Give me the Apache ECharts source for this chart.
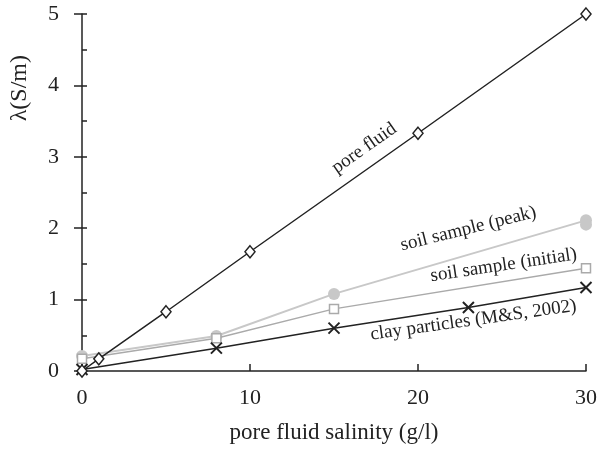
<!DOCTYPE html>
<html><head><meta charset="utf-8">
<script src="https://cdn.jsdelivr.net/npm/echarts@6/dist/echarts.min.js"></script>
<style>html,body{margin:0;padding:0;background:#fff}#c{width:600px;height:452px}</style>
</head><body><div id="c"></div>
<script>
// Data (x = pore fluid salinity g/l, y = conductivity S/m)
const poreFluidX = [0, 1, 5, 10, 20, 30];
const poreFluidY = [0, 0.17, 0.83, 1.67, 3.33, 5.0];
const clayX = [0, 8, 15, 23, 30];
const clayY = [0.02, 0.32, 0.6, 0.89, 1.17];
const initialX = [0, 8, 15, 30];
const initialY = [0.17, 0.46, 0.87, 1.44];
const peakX = [0, 8, 15, 30, 30];
const peakY = [0.21, 0.49, 1.08, 2.11, 2.05];
const xTicks = [0, 10, 20, 30];
const yTicks = [0, 1, 2, 3, 4, 5];
// annotations: text, anchor in data coords, rotation (deg)
const annText = ['pore fluid', 'soil sample (peak)', 'soil sample (initial)', 'clay particles (M&S, 2002)'];
const annX = [16.8, 23.0, 25.1, 23.3];
const annY = [3.12, 1.99, 1.48, 0.71];
const annRot = [35, 14, 8.5, 8];

const zip = (a, b) => a.map((v, i) => [v, b[i]]);
const FONT = '"Liberation Serif", "DejaVu Serif", serif';
const chart = echarts.init(document.getElementById('c'), null, {renderer: 'canvas'});
const crossPath = 'path://M0,0L10,10M10,0L0,10';
const option = {
  animation: false,
  grid: {left: 82, right: 14, top: 14, bottom: 81},
  xAxis: {
    type: 'value', min: xTicks[0], max: xTicks[xTicks.length - 1], interval: 10,
    name: 'pore fluid salinity (g/l)', nameLocation: 'middle', nameGap: 50,
    nameTextStyle: {fontFamily: FONT, fontSize: 23, color: '#222'},
    axisLine: {lineStyle: {color: '#222', width: 1.5}},
    axisTick: {inside: true, length: 7, lineStyle: {color: '#222', width: 1.5}},
    axisLabel: {fontFamily: FONT, fontSize: 22, color: '#222', margin: 16},
    splitLine: {show: false}
  },
  yAxis: [{
    type: 'value', min: yTicks[0], max: yTicks[yTicks.length - 1], interval: 1,
    name: 'λ(S/m)', nameLocation: 'end', nameRotate: 90, nameGap: -41,
    nameTextStyle: {fontFamily: FONT, fontSize: 24, color: '#222', align: 'right', verticalAlign: 'bottom', padding: [0, 0, 50, 0]},
    axisLine: {lineStyle: {color: '#222', width: 1.5}},
    axisTick: {inside: false, length: 8, lineStyle: {color: '#222', width: 1.5}},
    axisLabel: {fontFamily: FONT, fontSize: 22, color: '#222', margin: 23},
    splitLine: {show: false}
  }, {
    type: 'value', min: 0, max: 5, interval: 0.5, position: 'left',
    axisLine: {show: false},
    axisTick: {inside: true, length: 5, lineStyle: {color: '#222', width: 1.5}},
    axisLabel: {show: false},
    splitLine: {show: false}
  }],
  series: [
    {type: 'line', data: zip(peakX, peakY), symbol: 'circle', symbolSize: 12,
     lineStyle: {color: '#c8c8c8', width: 2}, itemStyle: {color: '#c8c8c8', borderWidth: 0}, z: 2},
    {type: 'line', data: zip(initialX, initialY), symbol: 'rect', symbolSize: 9,
     lineStyle: {color: '#aaaaaa', width: 1.5}, itemStyle: {color: '#fff', borderColor: '#aaaaaa', borderWidth: 1.5}, z: 3},
    {type: 'line', data: zip(clayX, clayY), symbol: crossPath, symbolSize: 11,
     lineStyle: {color: '#222', width: 1.5}, itemStyle: {color: 'none', borderColor: '#222', borderWidth: 2}, z: 4},
    {type: 'line', data: zip(poreFluidX, poreFluidY), symbol: 'diamond', symbolSize: [10, 12],
     lineStyle: {color: '#222', width: 1.5}, itemStyle: {color: '#fff', borderColor: '#222', borderWidth: 1.5}, z: 5}
  ]
};
chart.setOption(option);
const gfx = annText.map((t, i) => {
  const p = chart.convertToPixel({gridIndex: 0}, [annX[i], annY[i]]);
  return {type: 'text', x: p[0], y: p[1], rotation: annRot[i] * Math.PI / 180,
    style: {text: t, fill: '#222', font: '19px ' + FONT, align: 'center', verticalAlign: 'middle'}, z: 10};
});
chart.setOption({graphic: gfx});
</script></body></html>
